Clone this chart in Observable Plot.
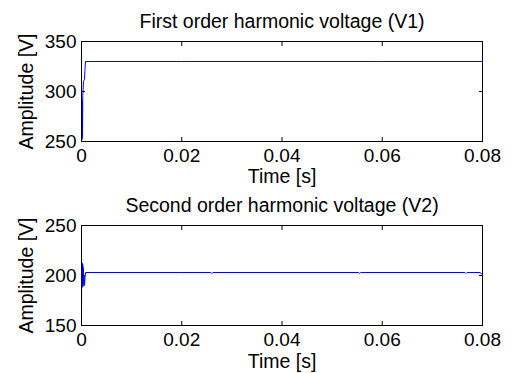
<!DOCTYPE html>
<html>
<head>
<meta charset="utf-8">
<script src="https://cdn.jsdelivr.net/npm/d3@7"></script>
<script src="https://cdn.jsdelivr.net/npm/@observablehq/plot@0.6"></script>
<style>
  html, body { margin: 0; padding: 0; background: #fff; }
  #chart { width: 512px; }
  #chart svg { display: block; font-family: "Liberation Sans", Arial, sans-serif; }
</style>
</head>
<body>
<div id="chart"></div>
<script>
// Time samples [s] and harmonic amplitudes [V]
const v1Time = [0, 0.00005, 0.0001, 0.00015, 0.0002, 0.00025, 0.0003, 0.0004, 0.0005, 0.0006, 0.0007, 0.0008, 0.02, 0.04, 0.06, 0.08];
const v1Amp  = [255, 292, 252, 290, 254, 296, 300, 310, 311, 312, 322, 330, 330, 330, 330, 330];

const v2Time = [0, 0.00005, 0.0001, 0.00015, 0.0002, 0.00025, 0.0003, 0.00035, 0.0004, 0.0005, 0.0006, 0.0007, 0.0008, 0.02, 0.0258, 0.026, 0.0262, 0.04, 0.0553, 0.0555, 0.0557, 0.0765, 0.0767, 0.0769, 0.0795, 0.08];
const v2Amp  = [160, 213, 188, 212, 190, 211, 189, 208, 192, 200, 190, 198, 203, 203, 203, 202, 203, 203, 203, 202, 203, 203, 202, 203, 203, 201];

const xTicks = [0, 0.02, 0.04, 0.06, 0.08];
const v1Ticks = [250, 300, 350];
const v2Ticks = [150, 200, 250];

const titles = ["First order harmonic voltage (V1)", "Second order harmonic voltage (V2)"];
const xLabel = "Time [s]";
const yLabel = "Amplitude [V]";

const TICK_FS = 19;
const LABEL_FS = 19.5;
const fmtX = d => d === 0 ? "0" : d.toFixed(2);
const blank = () => "";

function panel({time, amp, yDomain, yTicks, title, height, marginTop, marginBottom, titleDy, xLabelDy}) {
  const data = time.map((t, i) => ({t, v: amp[i]}));
  return Plot.plot({
    width: 512,
    height,
    marginLeft: 81,
    marginRight: 30,
    marginTop,
    marginBottom,
    style: {fontSize: TICK_FS + "px", color: "black", background: "white", overflow: "visible"},
    x: {domain: [0, 0.08]},
    y: {domain: yDomain},
    marks: [
      Plot.lineY(data, {x: "t", y: "v", stroke: "#0000ff", strokeWidth: 1, clip: true}),
      Plot.frame({stroke: "black", strokeWidth: 1}),
      Plot.axisX({ticks: xTicks, tickFormat: fmtX, tickSize: -4, tickPadding: 11, label: null, fontSize: TICK_FS}),
      Plot.axisX({anchor: "top", ticks: xTicks, tickFormat: blank, tickSize: -4, label: null}),
      Plot.axisY({ticks: yTicks, tickSize: -4, tickPadding: 9, label: null, fontSize: TICK_FS}),
      Plot.axisY({anchor: "right", ticks: yTicks, tickFormat: blank, tickSize: -4, label: null}),
      Plot.text([title], {frameAnchor: "top", dy: titleDy, text: d => d, fontSize: LABEL_FS, lineAnchor: "middle"}),
      Plot.text([xLabel], {frameAnchor: "bottom", dy: xLabelDy, text: d => d, fontSize: LABEL_FS, lineAnchor: "middle"}),
      Plot.text([yLabel], {frameAnchor: "left", dx: -55, rotate: -90, text: d => d, fontSize: LABEL_FS, textAnchor: "middle", lineAnchor: "middle"})
    ]
  });
}

const chart = document.getElementById("chart");
chart.append(panel({
  time: v1Time, amp: v1Amp, yDomain: [250, 350], yTicks: v1Ticks, title: titles[0],
  height: 187, marginTop: 41, marginBottom: 46, titleDy: -20, xLabelDy: 35
}));
chart.append(panel({
  time: v2Time, amp: v2Amp, yDomain: [150, 250], yTicks: v2Ticks, title: titles[1],
  height: 186, marginTop: 38, marginBottom: 48, titleDy: -20, xLabelDy: 36
}));
</script>
</body>
</html>
